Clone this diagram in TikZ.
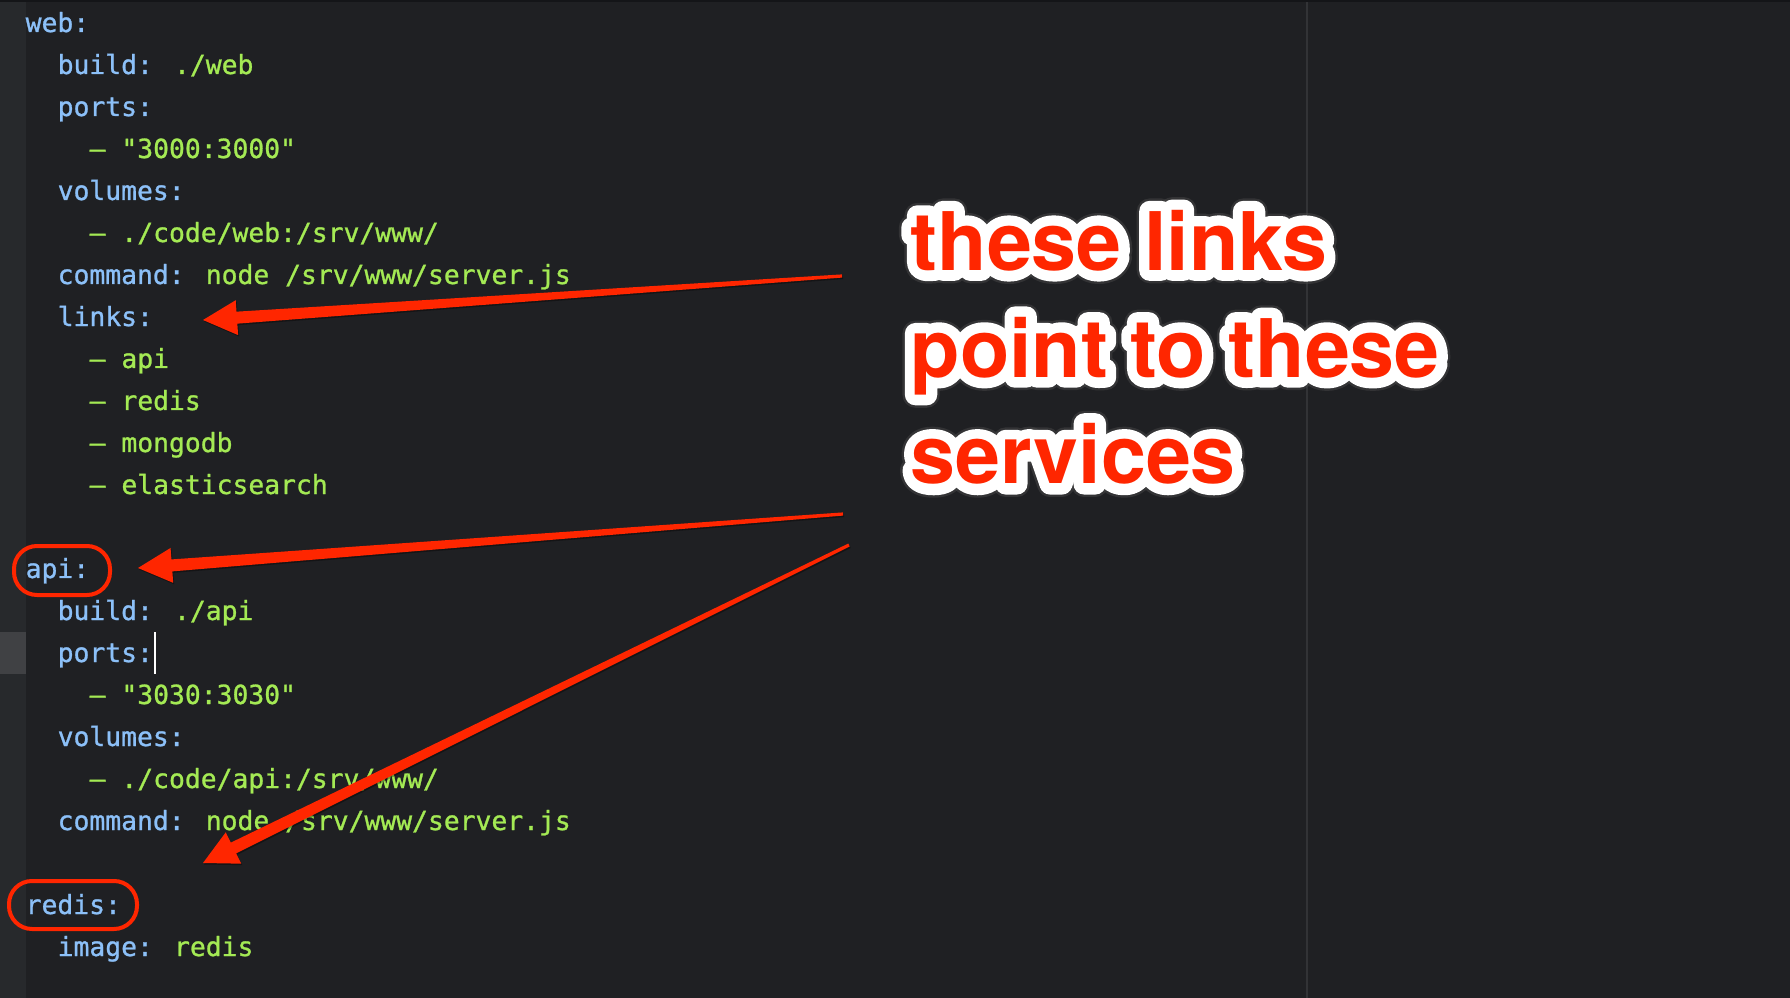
\documentclass[tikz,border=0pt]{standalone}
\usepackage{fontspec}
\usepackage{tikz}
\usetikzlibrary{calc}
\newfontfamily\codefont[FakeBold=1]{DejaVu Sans Mono}
\newfontfamily\calloutfont{texgyreheros-bold.otf}
\newfontfamily\calloutrim[FakeBold=26]{texgyreheros-bold.otf}
\newfontfamily\calloutshade[FakeBold=32]{texgyreheros-bold.otf}

\definecolor{bgdark}{HTML}{1F2023}
\definecolor{gutter}{HTML}{27292C}
\definecolor{gutterhi}{HTML}{404144}
\definecolor{topbar}{HTML}{141518}
\definecolor{guide}{HTML}{323336}
\definecolor{keyblue}{HTML}{8CC0F8}
\definecolor{valgreen}{HTML}{A4EA54}
\definecolor{markred}{HTML}{FF2600}

\newcommand\ky[1]{\textcolor{keyblue}{#1}}
\newcommand\vl[1]{\textcolor{valgreen}{#1}}

% tapered arrow, thin at the tail and wide at the head
\newcommand\skitcharrow[3][]{%
  \coordinate (hb) at ($(#3)!3.4mm!(#2)$);
  \fill[#1] ($(#2)!0.16mm!90:(#3)$) -- ($(hb)!0.6mm!-90:(#2)$) -- ($(hb)!1.75mm!-90:(#2)$) -- (#3)
    -- ($(hb)!1.75mm!90:(#2)$) -- ($(hb)!0.6mm!90:(#2)$) -- ($(#2)!0.16mm!-90:(#3)$) -- cycle;}

\tikzset{
  code/.style={anchor=base west, inner sep=0pt, font=\codefont\fontsize{7.5}{9}\selectfont},
  ring/.style={draw=markred, line width=0.4mm, rounded corners=2.3mm},
  callout/.style={anchor=base west, inner sep=0pt, align=left, line join=round,
    font=#1\fontsize{23}{30.4}\selectfont},
}

\begin{document}
\begin{tikzpicture}[x=0.1mm, y=-0.1mm]
            \useasboundingbox (0,0) rectangle (1790,998);
            \fill[bgdark] (0,0) rectangle (1790,998);
            \fill[gutter] (0,0) rectangle (26,998);
            \fill[gutterhi] (0,632) rectangle (26,674);
            \fill[topbar] (0,0) rectangle (1790,2);
            \fill[guide] (1306,2) rectangle (1308,998);

            % web service
            \node[code] (l0) at (25,32) {\ky{web:}};
            \node[code] (l1) at (57,74) {\ky{build:} \vl{./web}};
            \node[code] (l2) at (57,116) {\ky{ports:}};
            \node[code] (l3) at (89,158) {\vl{– "3000:3000"}};
            \node[code] (l4) at (57,200) {\ky{volumes:}};
            \node[code] (l5) at (89,242) {\vl{– ./code/web:/srv/www/}};
            \node[code] (l6) at (57,284) {\ky{command:} \vl{node /srv/www/server.js}};
            \node[code] (l7) at (57,326) {\ky{links:}};
            \node[code] (l8) at (89,368) {\vl{– api}};
            \node[code] (l9) at (89,410) {\vl{– redis}};
            \node[code] (l10) at (89,452) {\vl{– mongodb}};
            \node[code] (l11) at (89,494) {\vl{– elasticsearch}};

            % api service
            \node[code] (l13) at (25,578) {\ky{api:}};
            \node[code] (l14) at (57,620) {\ky{build:} \vl{./api}};
            \node[code] (l15) at (57,662) {\ky{ports:}};
            \draw[white, line width=0.2mm] (155,632) -- (155,674);
            \node[code] (l16) at (89,704) {\vl{– "3030:3030"}};
            \node[code] (l17) at (57,746) {\ky{volumes:}};
            \node[code] (l18) at (89,788) {\vl{– ./code/api:/srv/www/}};
            \node[code] (l19) at (57,830) {\ky{command:} \vl{node /srv/www/server.js}};

            % redis service
            \node[code] (l21) at (25,914) {\ky{redis:}};
            \node[code] (l22) at (57,956) {\ky{image:} \vl{redis}};

            % marks
            \draw[ring] (14,546) rectangle (110,595);
            \draw[ring] (9,881) rectangle (137,929);

            \coordinate (tail1) at (842,276);
            \coordinate (tip1) at (203,320);
            \coordinate (tail2) at (843,514);
            \coordinate (tip2) at (138,568);
            \coordinate (tail3) at (849,545);
            \coordinate (tip3) at (203,863);
            \foreach \n in {1,2,3}{
                \skitcharrow[black, opacity=.35, transform canvas={xshift=.1mm, yshift=-.15mm}]{tail\n}{tip\n}
                \skitcharrow[markred]{tail\n}{tip\n}
            }

            % callout: shade, white rim, red text (base = last line)
            \node[callout=\calloutshade, text=black!70, opacity=.45] (noteshade) at (910,484) {these links\\point to these\\services};
            \node[callout=\calloutrim, text=white] (noterim) at (910,484) {these links\\point to these\\services};
            \node[callout=\calloutfont, text=markred] (note) at (910,484) {these links\\point to these\\services};
        \end{tikzpicture}
\end{document}
